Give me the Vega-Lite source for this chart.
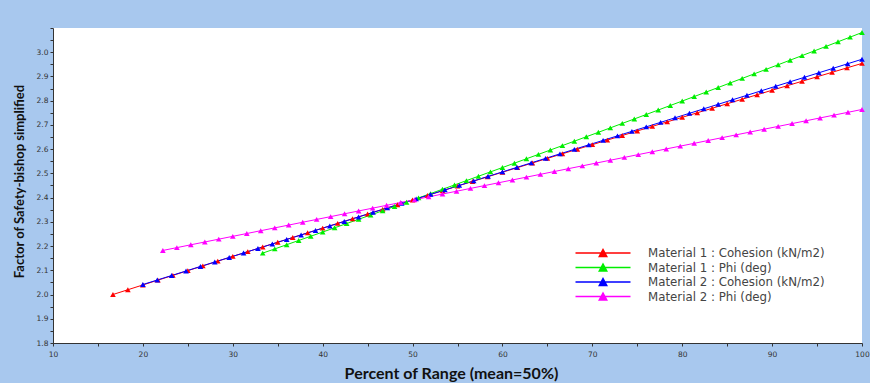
{
  "$schema": "https://vega.github.io/schema/vega-lite/v6.json",
  "width": 809,
  "height": 315,
  "autosize": {"type": "none"},
  "padding": {"left": 53, "top": 28, "right": 8, "bottom": 40},
  "background": "#a8c8ee",
  "config": {
    "view": {"fill": "white", "stroke": null},
    "font": "DejaVu Sans",
    "axis": {"grid": false, "domainColor": "#333333", "tickColor": "#333333", "tickSize": 3, "labelFontSize": 7.5, "labelColor": "#333333", "labelFont": "DejaVu Sans"}
  },
  "datasets": {
    "pts": [
      {"s": "Material 1 : Cohesion (kN/m2)", "x": 16.67, "y": 2.0001},
      {"s": "Material 1 : Cohesion (kN/m2)", "x": 18.33, "y": 2.0198},
      {"s": "Material 1 : Cohesion (kN/m2)", "x": 20.0, "y": 2.0396},
      {"s": "Material 1 : Cohesion (kN/m2)", "x": 21.67, "y": 2.0593},
      {"s": "Material 1 : Cohesion (kN/m2)", "x": 23.33, "y": 2.0789},
      {"s": "Material 1 : Cohesion (kN/m2)", "x": 25.0, "y": 2.0986},
      {"s": "Material 1 : Cohesion (kN/m2)", "x": 26.67, "y": 2.1182},
      {"s": "Material 1 : Cohesion (kN/m2)", "x": 28.33, "y": 2.1378},
      {"s": "Material 1 : Cohesion (kN/m2)", "x": 30.0, "y": 2.1574},
      {"s": "Material 1 : Cohesion (kN/m2)", "x": 31.67, "y": 2.1769},
      {"s": "Material 1 : Cohesion (kN/m2)", "x": 33.33, "y": 2.1964},
      {"s": "Material 1 : Cohesion (kN/m2)", "x": 35.0, "y": 2.2159},
      {"s": "Material 1 : Cohesion (kN/m2)", "x": 36.67, "y": 2.2354},
      {"s": "Material 1 : Cohesion (kN/m2)", "x": 38.33, "y": 2.2548},
      {"s": "Material 1 : Cohesion (kN/m2)", "x": 40.0, "y": 2.2742},
      {"s": "Material 1 : Cohesion (kN/m2)", "x": 41.67, "y": 2.2936},
      {"s": "Material 1 : Cohesion (kN/m2)", "x": 43.33, "y": 2.3129},
      {"s": "Material 1 : Cohesion (kN/m2)", "x": 45.0, "y": 2.3322},
      {"s": "Material 1 : Cohesion (kN/m2)", "x": 46.67, "y": 2.3515},
      {"s": "Material 1 : Cohesion (kN/m2)", "x": 48.33, "y": 2.3708},
      {"s": "Material 1 : Cohesion (kN/m2)", "x": 50.0, "y": 2.39},
      {"s": "Material 1 : Cohesion (kN/m2)", "x": 51.67, "y": 2.4092},
      {"s": "Material 1 : Cohesion (kN/m2)", "x": 53.33, "y": 2.4283},
      {"s": "Material 1 : Cohesion (kN/m2)", "x": 55.0, "y": 2.4476},
      {"s": "Material 1 : Cohesion (kN/m2)", "x": 56.67, "y": 2.4667},
      {"s": "Material 1 : Cohesion (kN/m2)", "x": 58.33, "y": 2.4857},
      {"s": "Material 1 : Cohesion (kN/m2)", "x": 60.0, "y": 2.5048},
      {"s": "Material 1 : Cohesion (kN/m2)", "x": 61.67, "y": 2.5238},
      {"s": "Material 1 : Cohesion (kN/m2)", "x": 63.33, "y": 2.5428},
      {"s": "Material 1 : Cohesion (kN/m2)", "x": 65.0, "y": 2.5619},
      {"s": "Material 1 : Cohesion (kN/m2)", "x": 66.67, "y": 2.5808},
      {"s": "Material 1 : Cohesion (kN/m2)", "x": 68.33, "y": 2.5997},
      {"s": "Material 1 : Cohesion (kN/m2)", "x": 70.0, "y": 2.6186},
      {"s": "Material 1 : Cohesion (kN/m2)", "x": 71.67, "y": 2.6374},
      {"s": "Material 1 : Cohesion (kN/m2)", "x": 73.33, "y": 2.6563},
      {"s": "Material 1 : Cohesion (kN/m2)", "x": 75.0, "y": 2.6751},
      {"s": "Material 1 : Cohesion (kN/m2)", "x": 76.67, "y": 2.6939},
      {"s": "Material 1 : Cohesion (kN/m2)", "x": 78.33, "y": 2.7126},
      {"s": "Material 1 : Cohesion (kN/m2)", "x": 80.0, "y": 2.7314},
      {"s": "Material 1 : Cohesion (kN/m2)", "x": 81.67, "y": 2.7501},
      {"s": "Material 1 : Cohesion (kN/m2)", "x": 83.33, "y": 2.7687},
      {"s": "Material 1 : Cohesion (kN/m2)", "x": 85.0, "y": 2.7874},
      {"s": "Material 1 : Cohesion (kN/m2)", "x": 86.67, "y": 2.806},
      {"s": "Material 1 : Cohesion (kN/m2)", "x": 88.33, "y": 2.8246},
      {"s": "Material 1 : Cohesion (kN/m2)", "x": 90.0, "y": 2.8431},
      {"s": "Material 1 : Cohesion (kN/m2)", "x": 91.67, "y": 2.8617},
      {"s": "Material 1 : Cohesion (kN/m2)", "x": 93.33, "y": 2.8801},
      {"s": "Material 1 : Cohesion (kN/m2)", "x": 95.0, "y": 2.8987},
      {"s": "Material 1 : Cohesion (kN/m2)", "x": 96.67, "y": 2.9171},
      {"s": "Material 1 : Cohesion (kN/m2)", "x": 98.33, "y": 2.9355},
      {"s": "Material 1 : Cohesion (kN/m2)", "x": 100.0, "y": 2.9539},

      {"s": "Material 1 : Phi (deg)", "x": 33.33, "y": 2.171},
      {"s": "Material 1 : Phi (deg)", "x": 34.67, "y": 2.1883},
      {"s": "Material 1 : Phi (deg)", "x": 36.0, "y": 2.2057},
      {"s": "Material 1 : Phi (deg)", "x": 37.33, "y": 2.2231},
      {"s": "Material 1 : Phi (deg)", "x": 38.67, "y": 2.2405},
      {"s": "Material 1 : Phi (deg)", "x": 40.0, "y": 2.2579},
      {"s": "Material 1 : Phi (deg)", "x": 41.33, "y": 2.2754},
      {"s": "Material 1 : Phi (deg)", "x": 42.67, "y": 2.293},
      {"s": "Material 1 : Phi (deg)", "x": 44.0, "y": 2.3105},
      {"s": "Material 1 : Phi (deg)", "x": 45.33, "y": 2.3281},
      {"s": "Material 1 : Phi (deg)", "x": 46.67, "y": 2.3457},
      {"s": "Material 1 : Phi (deg)", "x": 48.0, "y": 2.3634},
      {"s": "Material 1 : Phi (deg)", "x": 49.33, "y": 2.3811},
      {"s": "Material 1 : Phi (deg)", "x": 50.67, "y": 2.3989},
      {"s": "Material 1 : Phi (deg)", "x": 52.0, "y": 2.4166},
      {"s": "Material 1 : Phi (deg)", "x": 53.33, "y": 2.4345},
      {"s": "Material 1 : Phi (deg)", "x": 54.67, "y": 2.4523},
      {"s": "Material 1 : Phi (deg)", "x": 56.0, "y": 2.4703},
      {"s": "Material 1 : Phi (deg)", "x": 57.33, "y": 2.4882},
      {"s": "Material 1 : Phi (deg)", "x": 58.67, "y": 2.5062},
      {"s": "Material 1 : Phi (deg)", "x": 60.0, "y": 2.5241},
      {"s": "Material 1 : Phi (deg)", "x": 61.33, "y": 2.5421},
      {"s": "Material 1 : Phi (deg)", "x": 62.67, "y": 2.5603},
      {"s": "Material 1 : Phi (deg)", "x": 64.0, "y": 2.5783},
      {"s": "Material 1 : Phi (deg)", "x": 65.33, "y": 2.5965},
      {"s": "Material 1 : Phi (deg)", "x": 66.67, "y": 2.6147},
      {"s": "Material 1 : Phi (deg)", "x": 68.0, "y": 2.6329},
      {"s": "Material 1 : Phi (deg)", "x": 69.33, "y": 2.6512},
      {"s": "Material 1 : Phi (deg)", "x": 70.67, "y": 2.6695},
      {"s": "Material 1 : Phi (deg)", "x": 72.0, "y": 2.6878},
      {"s": "Material 1 : Phi (deg)", "x": 73.33, "y": 2.7062},
      {"s": "Material 1 : Phi (deg)", "x": 74.67, "y": 2.7246},
      {"s": "Material 1 : Phi (deg)", "x": 76.0, "y": 2.7431},
      {"s": "Material 1 : Phi (deg)", "x": 77.33, "y": 2.7615},
      {"s": "Material 1 : Phi (deg)", "x": 78.67, "y": 2.7801},
      {"s": "Material 1 : Phi (deg)", "x": 80.0, "y": 2.7986},
      {"s": "Material 1 : Phi (deg)", "x": 81.33, "y": 2.8171},
      {"s": "Material 1 : Phi (deg)", "x": 82.67, "y": 2.8358},
      {"s": "Material 1 : Phi (deg)", "x": 84.0, "y": 2.8544},
      {"s": "Material 1 : Phi (deg)", "x": 85.33, "y": 2.8732},
      {"s": "Material 1 : Phi (deg)", "x": 86.67, "y": 2.8919},
      {"s": "Material 1 : Phi (deg)", "x": 88.0, "y": 2.9107},
      {"s": "Material 1 : Phi (deg)", "x": 89.33, "y": 2.9294},
      {"s": "Material 1 : Phi (deg)", "x": 90.67, "y": 2.9483},
      {"s": "Material 1 : Phi (deg)", "x": 92.0, "y": 2.9672},
      {"s": "Material 1 : Phi (deg)", "x": 93.33, "y": 2.9861},
      {"s": "Material 1 : Phi (deg)", "x": 94.67, "y": 3.0051},
      {"s": "Material 1 : Phi (deg)", "x": 96.0, "y": 3.0241},
      {"s": "Material 1 : Phi (deg)", "x": 97.33, "y": 3.0431},
      {"s": "Material 1 : Phi (deg)", "x": 98.67, "y": 3.0622},
      {"s": "Material 1 : Phi (deg)", "x": 100.0, "y": 3.0813},

      {"s": "Material 2 : Cohesion (kN/m2)", "x": 20.0, "y": 2.0414},
      {"s": "Material 2 : Cohesion (kN/m2)", "x": 21.6, "y": 2.06},
      {"s": "Material 2 : Cohesion (kN/m2)", "x": 23.2, "y": 2.0786},
      {"s": "Material 2 : Cohesion (kN/m2)", "x": 24.8, "y": 2.0972},
      {"s": "Material 2 : Cohesion (kN/m2)", "x": 26.4, "y": 2.1158},
      {"s": "Material 2 : Cohesion (kN/m2)", "x": 28.0, "y": 2.1344},
      {"s": "Material 2 : Cohesion (kN/m2)", "x": 29.6, "y": 2.153},
      {"s": "Material 2 : Cohesion (kN/m2)", "x": 31.2, "y": 2.1715},
      {"s": "Material 2 : Cohesion (kN/m2)", "x": 32.8, "y": 2.1901},
      {"s": "Material 2 : Cohesion (kN/m2)", "x": 34.4, "y": 2.2087},
      {"s": "Material 2 : Cohesion (kN/m2)", "x": 36.0, "y": 2.2273},
      {"s": "Material 2 : Cohesion (kN/m2)", "x": 37.6, "y": 2.2459},
      {"s": "Material 2 : Cohesion (kN/m2)", "x": 39.2, "y": 2.2645},
      {"s": "Material 2 : Cohesion (kN/m2)", "x": 40.8, "y": 2.2831},
      {"s": "Material 2 : Cohesion (kN/m2)", "x": 42.4, "y": 2.3017},
      {"s": "Material 2 : Cohesion (kN/m2)", "x": 44.0, "y": 2.3203},
      {"s": "Material 2 : Cohesion (kN/m2)", "x": 45.6, "y": 2.3389},
      {"s": "Material 2 : Cohesion (kN/m2)", "x": 47.2, "y": 2.3575},
      {"s": "Material 2 : Cohesion (kN/m2)", "x": 48.8, "y": 2.3761},
      {"s": "Material 2 : Cohesion (kN/m2)", "x": 50.4, "y": 2.3947},
      {"s": "Material 2 : Cohesion (kN/m2)", "x": 52.0, "y": 2.4132},
      {"s": "Material 2 : Cohesion (kN/m2)", "x": 53.6, "y": 2.4318},
      {"s": "Material 2 : Cohesion (kN/m2)", "x": 55.2, "y": 2.4504},
      {"s": "Material 2 : Cohesion (kN/m2)", "x": 56.8, "y": 2.469},
      {"s": "Material 2 : Cohesion (kN/m2)", "x": 58.4, "y": 2.4876},
      {"s": "Material 2 : Cohesion (kN/m2)", "x": 60.0, "y": 2.5062},
      {"s": "Material 2 : Cohesion (kN/m2)", "x": 61.6, "y": 2.5248},
      {"s": "Material 2 : Cohesion (kN/m2)", "x": 63.2, "y": 2.5434},
      {"s": "Material 2 : Cohesion (kN/m2)", "x": 64.8, "y": 2.562},
      {"s": "Material 2 : Cohesion (kN/m2)", "x": 66.4, "y": 2.5806},
      {"s": "Material 2 : Cohesion (kN/m2)", "x": 68.0, "y": 2.5992},
      {"s": "Material 2 : Cohesion (kN/m2)", "x": 69.6, "y": 2.6178},
      {"s": "Material 2 : Cohesion (kN/m2)", "x": 71.2, "y": 2.6363},
      {"s": "Material 2 : Cohesion (kN/m2)", "x": 72.8, "y": 2.6549},
      {"s": "Material 2 : Cohesion (kN/m2)", "x": 74.4, "y": 2.6735},
      {"s": "Material 2 : Cohesion (kN/m2)", "x": 76.0, "y": 2.6921},
      {"s": "Material 2 : Cohesion (kN/m2)", "x": 77.6, "y": 2.7107},
      {"s": "Material 2 : Cohesion (kN/m2)", "x": 79.2, "y": 2.7293},
      {"s": "Material 2 : Cohesion (kN/m2)", "x": 80.8, "y": 2.7479},
      {"s": "Material 2 : Cohesion (kN/m2)", "x": 82.4, "y": 2.7665},
      {"s": "Material 2 : Cohesion (kN/m2)", "x": 84.0, "y": 2.7851},
      {"s": "Material 2 : Cohesion (kN/m2)", "x": 85.6, "y": 2.8037},
      {"s": "Material 2 : Cohesion (kN/m2)", "x": 87.2, "y": 2.8223},
      {"s": "Material 2 : Cohesion (kN/m2)", "x": 88.8, "y": 2.8409},
      {"s": "Material 2 : Cohesion (kN/m2)", "x": 90.4, "y": 2.8595},
      {"s": "Material 2 : Cohesion (kN/m2)", "x": 92.0, "y": 2.878},
      {"s": "Material 2 : Cohesion (kN/m2)", "x": 93.6, "y": 2.8966},
      {"s": "Material 2 : Cohesion (kN/m2)", "x": 95.2, "y": 2.9152},
      {"s": "Material 2 : Cohesion (kN/m2)", "x": 96.8, "y": 2.9338},
      {"s": "Material 2 : Cohesion (kN/m2)", "x": 98.4, "y": 2.9524},
      {"s": "Material 2 : Cohesion (kN/m2)", "x": 100.0, "y": 2.971},

      {"s": "Material 2 : Phi (deg)", "x": 22.22, "y": 2.182},
      {"s": "Material 2 : Phi (deg)", "x": 23.78, "y": 2.1936},
      {"s": "Material 2 : Phi (deg)", "x": 25.33, "y": 2.2053},
      {"s": "Material 2 : Phi (deg)", "x": 26.89, "y": 2.2169},
      {"s": "Material 2 : Phi (deg)", "x": 28.44, "y": 2.2285},
      {"s": "Material 2 : Phi (deg)", "x": 30.0, "y": 2.2402},
      {"s": "Material 2 : Phi (deg)", "x": 31.56, "y": 2.2518},
      {"s": "Material 2 : Phi (deg)", "x": 33.11, "y": 2.2634},
      {"s": "Material 2 : Phi (deg)", "x": 34.67, "y": 2.2751},
      {"s": "Material 2 : Phi (deg)", "x": 36.22, "y": 2.2867},
      {"s": "Material 2 : Phi (deg)", "x": 37.78, "y": 2.2984},
      {"s": "Material 2 : Phi (deg)", "x": 39.33, "y": 2.31},
      {"s": "Material 2 : Phi (deg)", "x": 40.89, "y": 2.3216},
      {"s": "Material 2 : Phi (deg)", "x": 42.44, "y": 2.3333},
      {"s": "Material 2 : Phi (deg)", "x": 44.0, "y": 2.3449},
      {"s": "Material 2 : Phi (deg)", "x": 45.56, "y": 2.3565},
      {"s": "Material 2 : Phi (deg)", "x": 47.11, "y": 2.3682},
      {"s": "Material 2 : Phi (deg)", "x": 48.67, "y": 2.3798},
      {"s": "Material 2 : Phi (deg)", "x": 50.22, "y": 2.3914},
      {"s": "Material 2 : Phi (deg)", "x": 51.78, "y": 2.4031},
      {"s": "Material 2 : Phi (deg)", "x": 53.33, "y": 2.4147},
      {"s": "Material 2 : Phi (deg)", "x": 54.89, "y": 2.4263},
      {"s": "Material 2 : Phi (deg)", "x": 56.44, "y": 2.438},
      {"s": "Material 2 : Phi (deg)", "x": 58.0, "y": 2.4496},
      {"s": "Material 2 : Phi (deg)", "x": 59.56, "y": 2.4612},
      {"s": "Material 2 : Phi (deg)", "x": 61.11, "y": 2.4729},
      {"s": "Material 2 : Phi (deg)", "x": 62.67, "y": 2.4845},
      {"s": "Material 2 : Phi (deg)", "x": 64.22, "y": 2.4961},
      {"s": "Material 2 : Phi (deg)", "x": 65.78, "y": 2.5078},
      {"s": "Material 2 : Phi (deg)", "x": 67.33, "y": 2.5194},
      {"s": "Material 2 : Phi (deg)", "x": 68.89, "y": 2.5311},
      {"s": "Material 2 : Phi (deg)", "x": 70.44, "y": 2.5427},
      {"s": "Material 2 : Phi (deg)", "x": 72.0, "y": 2.5543},
      {"s": "Material 2 : Phi (deg)", "x": 73.56, "y": 2.566},
      {"s": "Material 2 : Phi (deg)", "x": 75.11, "y": 2.5776},
      {"s": "Material 2 : Phi (deg)", "x": 76.67, "y": 2.5892},
      {"s": "Material 2 : Phi (deg)", "x": 78.22, "y": 2.6009},
      {"s": "Material 2 : Phi (deg)", "x": 79.78, "y": 2.6125},
      {"s": "Material 2 : Phi (deg)", "x": 81.33, "y": 2.6241},
      {"s": "Material 2 : Phi (deg)", "x": 82.89, "y": 2.6358},
      {"s": "Material 2 : Phi (deg)", "x": 84.44, "y": 2.6474},
      {"s": "Material 2 : Phi (deg)", "x": 86.0, "y": 2.659},
      {"s": "Material 2 : Phi (deg)", "x": 87.56, "y": 2.6707},
      {"s": "Material 2 : Phi (deg)", "x": 89.11, "y": 2.6823},
      {"s": "Material 2 : Phi (deg)", "x": 90.67, "y": 2.6939},
      {"s": "Material 2 : Phi (deg)", "x": 92.22, "y": 2.7056},
      {"s": "Material 2 : Phi (deg)", "x": 93.78, "y": 2.7172},
      {"s": "Material 2 : Phi (deg)", "x": 95.33, "y": 2.7288},
      {"s": "Material 2 : Phi (deg)", "x": 96.89, "y": 2.7405},
      {"s": "Material 2 : Phi (deg)", "x": 98.44, "y": 2.7521},
      {"s": "Material 2 : Phi (deg)", "x": 100.0, "y": 2.7638}
    ]
  },
  "data": {"name": "pts"},
  "encoding": {
    "x": {
      "field": "x", "type": "quantitative",
      "scale": {"domain": [10, 100], "nice": false},
      "axis": {
        "values": [10, 15, 20, 25, 30, 35, 40, 45, 50, 55, 60, 65, 70, 75, 80, 85, 90, 95, 100],
        "labelExpr": "datum.value % 10 == 0 ? datum.label : ''",
        "format": "d", "labelFlush": false, "labelPadding": 4,
        "title": "Percent of Range (mean=50%)",
        "titleFont": "Lato", "titleFontWeight": "bold", "titleFontSize": 16, "titleColor": "#111111",
        "titleX": 398, "titleY": 30, "titleBaseline": "middle", "titleAlign": "center"
      }
    },
    "y": {
      "field": "y", "type": "quantitative",
      "scale": {"domain": [1.8, 3.1], "nice": false, "zero": false},
      "axis": {
        "values": [1.8, 1.85, 1.9, 1.95, 2.0, 2.05, 2.1, 2.15, 2.2, 2.25, 2.3, 2.35, 2.4, 2.45, 2.5, 2.55, 2.6, 2.65, 2.7, 2.75, 2.8, 2.85, 2.9, 2.95, 3.0, 3.05, 3.1],
        "labelExpr": "(abs(datum.value * 10 - round(datum.value * 10)) < 0.01 && datum.value < 3.05) ? format(datum.value, '.1f') : ''",
        "labelFlush": false, "labelPadding": 2,
        "title": "Factor of Safety-bishop simplified",
        "titleFont": "Lato", "titleFontWeight": "bold", "titleFontSize": 13, "titleColor": "#111111",
        "titleX": -34, "titleY": 153, "titleAngle": -90, "titleBaseline": "middle", "titleAlign": "center"
      }
    }
  },
  "layer": [
    {
      "mark": {"type": "line", "strokeWidth": 1},
      "encoding": {
        "stroke": {
          "field": "s", "type": "nominal",
          "scale": {"domain": ["Material 1 : Cohesion (kN/m2)", "Material 1 : Phi (deg)", "Material 2 : Cohesion (kN/m2)", "Material 2 : Phi (deg)"], "range": ["#ff0000", "#00ee00", "#0000ff", "#ff00ff"]},
          "legend": {"orient": "none", "legendX": 544, "legendY": 219, "title": null, "symbolType": "M-5.5,0H5.5M-0.75,0.7L0,-0.7L0.75,0.7Z", "symbolSize": 100, "symbolStrokeWidth": 1.5, "labelFont": "DejaVu Sans", "labelFontSize": 11.8, "labelLimit": 300, "labelColor": "#444444", "labelOffset": 39, "rowPadding": 0.5, "padding": 0}
        },
        "order": {"field": "x", "type": "quantitative"}
      }
    },
    {
      "mark": {"type": "point", "shape": "triangle-up", "filled": true, "size": 32, "opacity": 1},
      "encoding": {
        "fill": {
          "field": "s", "type": "nominal",
          "scale": {"domain": ["Material 1 : Cohesion (kN/m2)", "Material 1 : Phi (deg)", "Material 2 : Cohesion (kN/m2)", "Material 2 : Phi (deg)"], "range": ["#ff0000", "#00ee00", "#0000ff", "#ff00ff"]},
          "legend": {"orient": "none", "legendX": 544, "legendY": 219, "title": null, "symbolType": "M-5.5,0H5.5M-0.75,0.7L0,-0.7L0.75,0.7Z", "symbolSize": 100, "symbolStrokeWidth": 1.5, "labelFont": "DejaVu Sans", "labelFontSize": 11.8, "labelLimit": 300, "labelColor": "#444444", "labelOffset": 39, "rowPadding": 0.5, "padding": 0}
        }
      }
    }
  ]
}
